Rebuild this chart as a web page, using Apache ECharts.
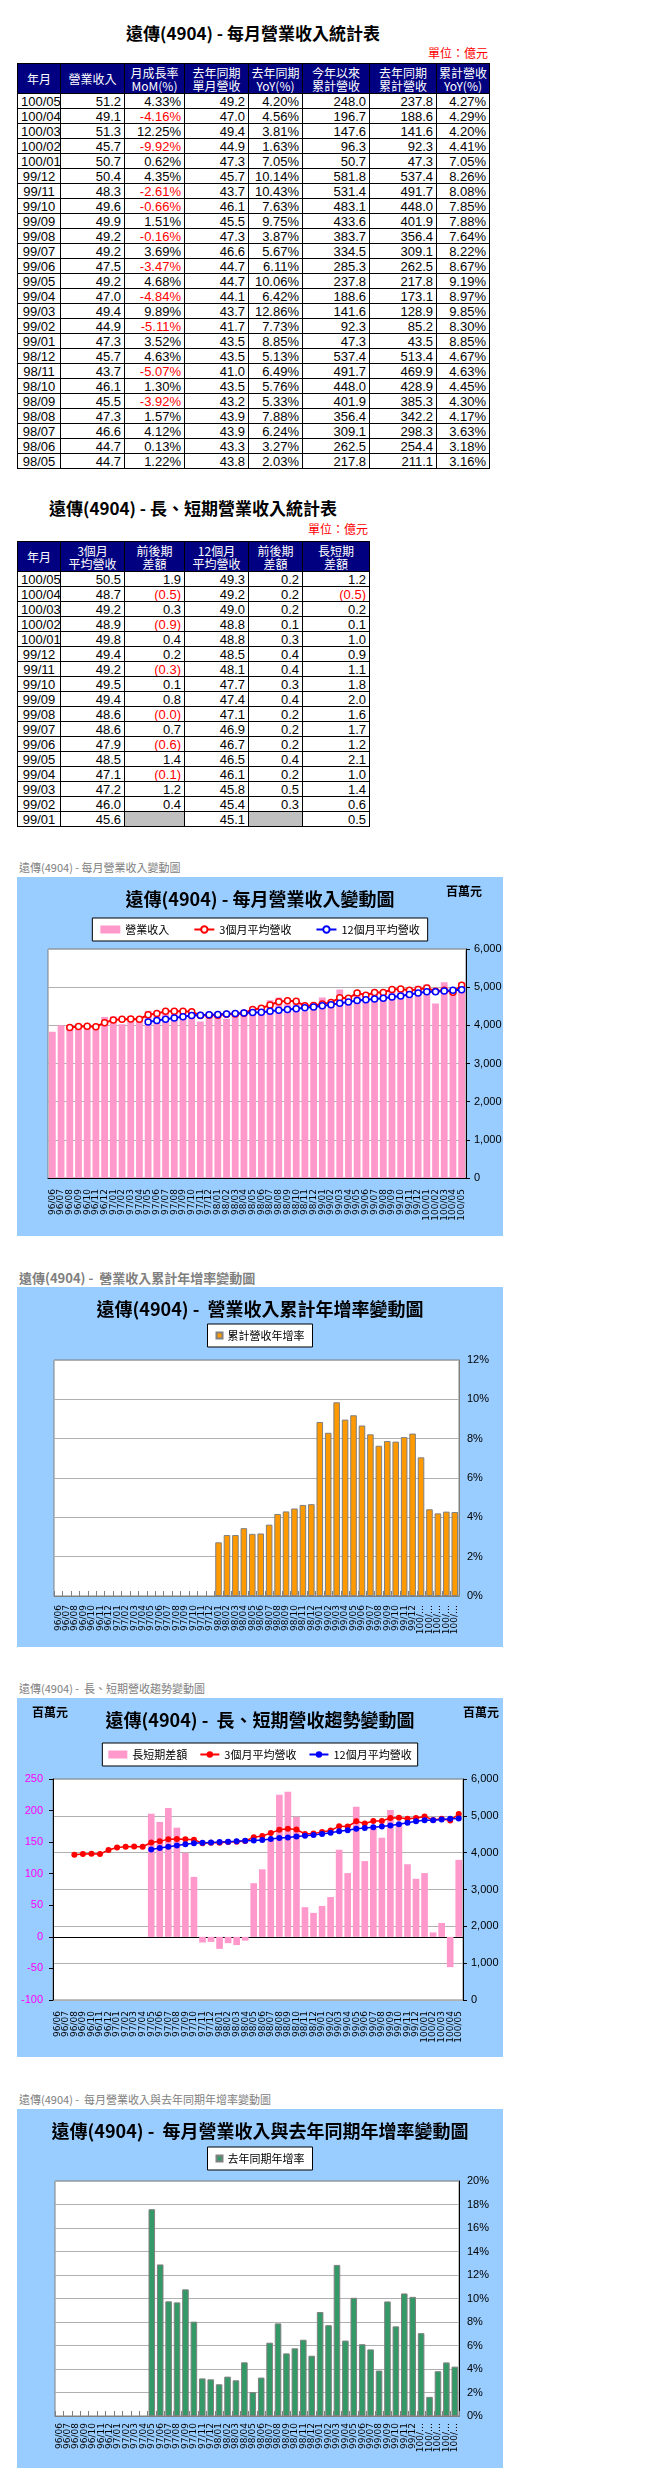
<!DOCTYPE html>
<html><head><meta charset="utf-8">
<script src="https://cdn.jsdelivr.net/npm/echarts@6/dist/echarts.min.js"></script>
<style>
html,body{margin:0;padding:0;background:#fff;}
body{position:relative;width:658px;height:2491px;overflow:hidden;font-family:'Noto Sans CJK TC','Noto Sans CJK SC',sans-serif;}
.abs{position:absolute;}
.ttl{font-weight:bold;font-size:17px;color:#000;text-align:center;white-space:nowrap;line-height:20px;}
.unit{color:#f00;font-size:12px;line-height:14px;white-space:nowrap;text-align:right;}
table{border-collapse:collapse;table-layout:fixed;position:absolute;}
td,th{border:1px solid #000;padding:0 3px;overflow:hidden;white-space:nowrap;box-sizing:border-box;}
th{background:#000080;color:#fff;font-weight:normal;font-size:12px;line-height:13px;height:30px;text-align:center;padding:0;}
td{font-family:'Liberation Sans Narrow','Liberation Sans',Arial,sans-serif;font-size:13px;height:15px;line-height:13px;text-align:right;color:#000;}
td.m{text-align:center;}
td.neg{color:#f00;}
td.gray{background:#c0c0c0;}
.cap{color:#808080;font-size:11px;line-height:16px;white-space:nowrap;}
.chart{position:absolute;}
</style>
</head><body>

<div class="abs ttl" style="left:0;width:506px;top:23px;">遠傳(4904) - 每月營業收入統計表</div>
<div class="abs unit" style="left:420px;width:68px;top:46px;">單位：億元</div>
<table id="t1" style="left:17px;top:63px;width:472px;"></table>

<div class="abs ttl" style="left:0;width:386px;top:498px;">遠傳(4904) - 長、短期營業收入統計表</div>
<div class="abs unit" style="left:300px;width:68px;top:522px;">單位：億元</div>
<table id="t2" style="left:17px;top:541px;width:352px;"></table>

<div class="abs cap" style="left:19px;top:859px;">遠傳(4904) - 每月營業收入變動圖</div>
<div id="c1" class="chart" style="left:17px;top:877px;width:486px;height:359px;"></div>

<div class="abs cap" style="left:19px;top:1270px;font-weight:bold;font-size:13px;">遠傳(4904) -&nbsp; 營業收入累計年增率變動圖</div>
<div id="c2" class="chart" style="left:17px;top:1287px;width:486px;height:360px;"></div>

<div class="abs cap" style="left:19px;top:1680px;">遠傳(4904) -&nbsp; 長、短期營收趨勢變動圖</div>
<div id="c3" class="chart" style="left:17px;top:1698px;width:486px;height:359px;"></div>

<div class="abs cap" style="left:19px;top:2091px;">遠傳(4904) -&nbsp; 每月營業收入與去年同期年增率變動圖</div>
<div id="c4" class="chart" style="left:17px;top:2109px;width:486px;height:359px;"></div>

<script>
// ---------- Table 1 data (億元) ----------
const t1Months = ['100/05','100/04','100/03','100/02','100/01','99/12','99/11','99/10','99/09','99/08','99/07','99/06','99/05','99/04','99/03','99/02','99/01','98/12','98/11','98/10','98/09','98/08','98/07','98/06','98/05'];
const t1Revenue = [51.2,49.1,51.3,45.7,50.7,50.4,48.3,49.6,49.9,49.2,49.2,47.5,49.2,47.0,49.4,44.9,47.3,45.7,43.7,46.1,45.5,47.3,46.6,44.7,44.7];
const t1MoM = [4.33,-4.16,12.25,-9.92,0.62,4.35,-2.61,-0.66,1.51,-0.16,3.69,-3.47,4.68,-4.84,9.89,-5.11,3.52,4.63,-5.07,1.30,-3.92,1.57,4.12,0.13,1.22];
const t1LastYear = [49.2,47.0,49.4,44.9,47.3,45.7,43.7,46.1,45.5,47.3,46.6,44.7,44.7,44.1,43.7,41.7,43.5,43.5,41.0,43.5,43.2,43.9,43.9,43.3,43.8];
const t1YoY = [4.20,4.56,3.81,1.63,7.05,10.14,10.43,7.63,9.75,3.87,5.67,6.11,10.06,6.42,12.86,7.73,8.85,5.13,6.49,5.76,5.33,7.88,6.24,3.27,2.03];
const t1Ytd = [248.0,196.7,147.6,96.3,50.7,581.8,531.4,483.1,433.6,383.7,334.5,285.3,237.8,188.6,141.6,92.3,47.3,537.4,491.7,448.0,401.9,356.4,309.1,262.5,217.8];
const t1YtdLast = [237.8,188.6,141.6,92.3,47.3,537.4,491.7,448.0,401.9,356.4,309.1,262.5,217.8,173.1,128.9,85.2,43.5,513.4,469.9,428.9,385.3,342.2,298.3,254.4,211.1];
const t1YtdYoY = [4.27,4.29,4.20,4.41,7.05,8.26,8.08,7.85,7.88,7.64,8.22,8.67,9.19,8.97,9.85,8.30,8.85,4.67,4.63,4.45,4.30,4.17,3.63,3.18,3.16];
const t1Headers = ['年月','營業收入','月成長率<br>MoM(%)','去年同期<br>單月營收','去年同期<br>YoY(%)','今年以來<br>累計營收','去年同期<br>累計營收','累計營收<br>YoY(%)'];

// ---------- Table 2 data (億元) ----------
const t2Months = ['100/05','100/04','100/03','100/02','100/01','99/12','99/11','99/10','99/09','99/08','99/07','99/06','99/05','99/04','99/03','99/02','99/01'];
const t2Avg3 = [50.5,48.7,49.2,48.9,49.8,49.4,49.2,49.5,49.4,48.6,48.6,47.9,48.5,47.1,47.2,46.0,45.6];
const t2Diff3 = [1.9,-0.5,0.3,-0.9,0.4,0.2,-0.3,0.1,0.8,-0.0,0.7,-0.6,1.4,-0.1,1.2,0.4,null];
const t2Avg12 = [49.3,49.2,49.0,48.8,48.8,48.5,48.1,47.7,47.4,47.1,46.9,46.7,46.5,46.1,45.8,45.4,45.1];
const t2Diff12 = [0.2,0.2,0.2,0.1,0.3,0.4,0.4,0.3,0.4,0.2,0.2,0.2,0.4,0.2,0.5,0.3,null];
const t2LongShort = [1.2,-0.5,0.2,0.1,1.0,0.9,1.1,1.8,2.0,1.6,1.7,1.2,2.1,1.0,1.4,0.6,0.5];
const t2Headers = ['年月','3個月<br>平均營收','前後期<br>差額','12個月<br>平均營收','前後期<br>差額','長短期<br>差額'];

// ---------- Chart data (百萬元 / %) ----------
const months = ['96/06','96/07','96/08','96/09','96/10','96/11','96/12',
 '97/01','97/02','97/03','97/04','97/05','97/06','97/07','97/08','97/09','97/10','97/11','97/12',
 '98/01','98/02','98/03','98/04','98/05','98/06','98/07','98/08','98/09','98/10','98/11','98/12',
 '99/01','99/02','99/03','99/04','99/05','99/06','99/07','99/08','99/09','99/10','99/11','99/12',
 '100/01','100/02','100/03','100/04','100/05'];
const revenue = [3830,4000,4000,3900,4020,3970,4220,
 4230,4030,4240,4210,4380,4330,4390,4390,4320,4350,4100,4350,
 4350,4170,4370,4410,4470,4470,4660,4730,4550,4610,4370,4570,
 4730,4490,4940,4700,4920,4750,4920,4920,4990,4960,4830,5040,
 5070,4570,5130,4910,5120];
const avg3m = [null,null,3943,3967,3973,3963,4070,
 4140,4160,4167,4160,4277,4307,4367,4370,4367,4353,4257,4267,
 4267,4290,4297,4317,4417,4450,4533,4620,4647,4630,4510,4517,
 4560,4600,4720,4710,4850,4790,4860,4860,4940,4950,4920,4940,
 4980,4890,4920,4870,5050];
const avg12m = [null,null,null,null,null,null,null,
 null,null,null,null,4086,4128,4160,4193,4228,4255,4266,4277,
 4287,4298,4309,4326,4333,4345,4368,4396,4415,4437,4459,4478,
 4510,4540,4580,4610,4650,4670,4690,4710,4740,4770,4810,4850,
 4880,4880,4900,4920,4930];
const longShortDiff = [null,null,null,null,null,null,null,
 null,null,null,null,195,182,204,173,133,95,-9,-8,
 -19,-10,-13,-6,85,107,154,225,230,190,47,38,
 49,63,138,101,206,120,172,157,201,181,115,92,
 101,7,22,-48,122];
const ytdYoY = [null,null,null,null,null,null,null,
 null,null,null,null,null,null,null,null,null,null,null,null,
 2.73,3.10,3.10,3.45,3.16,3.18,3.63,4.17,4.30,4.45,4.63,4.67,
 8.85,8.30,9.85,8.97,9.19,8.67,8.22,7.64,7.88,7.85,8.08,8.26,
 7.05,4.41,4.20,4.29,4.27];
const monthYoY = [null,null,null,null,null,null,null,
 null,null,null,null,17.6,12.9,9.76,9.67,10.78,8.03,3.2,3.12,
 2.7,3.35,3.04,4.57,2.03,3.27,6.24,7.88,5.33,5.76,6.49,5.13,
 8.85,7.73,12.86,6.42,10.06,6.11,5.67,3.87,9.75,7.63,10.43,10.14,
 7.05,1.63,3.81,4.56,4.20];

// ---------- Build tables ----------
function isNeg(v){ return v < 0 || Object.is(v, -0); }
function buildTable(id, widths, headers, rows){
  const t = document.getElementById(id);
  let h = '<colgroup>' + widths.map(w => '<col style="width:'+w+'px">').join('') + '</colgroup>';
  h += '<tr>' + headers.map(x => '<th>'+x+'</th>').join('') + '</tr>';
  rows.forEach(r => {
    h += '<tr>' + r.map(c => '<td class="'+(c.cls||'')+'">'+(c.text==null?'':c.text)+'</td>').join('') + '</tr>';
  });
  t.innerHTML = h;
}
const pct = v => ({text: v.toFixed(2)+'%', cls: isNeg(v)?'neg':''});
const num = v => ({text: v.toFixed(1)});
const paren = v => v==null ? {text:'', cls:'gray'} : (isNeg(v) ? {text:'('+Math.abs(v).toFixed(1)+')', cls:'neg'} : {text:v.toFixed(1)});

buildTable('t1', [43,64,60,64,54,67,67,53], t1Headers,
  t1Months.map((m,i)=>[{text:m,cls:'m'}, num(t1Revenue[i]), pct(t1MoM[i]), num(t1LastYear[i]), pct(t1YoY[i]), num(t1Ytd[i]), num(t1YtdLast[i]), pct(t1YtdYoY[i])]));
buildTable('t2', [43,64,60,64,54,67], t2Headers,
  t2Months.map((m,i)=>[{text:m,cls:'m'}, num(t2Avg3[i]), paren(t2Diff3[i]), num(t2Avg12[i]), paren(t2Diff12[i]), paren(t2LongShort[i])]));

// ---------- Charts ----------
const NUMF = "'Liberation Sans Narrow','Liberation Sans',Arial,sans-serif";
const CJKF = "'Noto Sans CJK TC','Noto Sans CJK SC',sans-serif";
const XF = "'DejaVu Sans',sans-serif";
const thousands = v => v.toLocaleString('en-US');

function titleOpt(text){
  return {text:text, left:'center', top:13, padding:0,
    textStyle:{fontSize:18, fontWeight:'bold', color:'#000', fontFamily:CJKF}};
}
function xAxisOpt(ticks, fmtTrunc, margin){
  return {type:'category', data:months,
    axisLine:{show:true, lineStyle:{color: ticks ? '#808080' : '#000'}},
    axisTick:{show:ticks, inside:true, length:5, lineStyle:{color:'#808080'}},
    axisLabel:{rotate:90, interval:0, fontSize:9, color:'#000', fontFamily:XF, margin:margin,
      formatter: fmtTrunc ? (v => v.length>5 ? v.slice(0,4)+'…' : v) : (v=>v)},
    splitLine:{show:false}};
}
function legendOpt(top, items, extra){
  return Object.assign({left:'center', top:top, data:items, backgroundColor:'#fff', borderColor:'#000', borderWidth:1,
    textStyle:{fontSize:11, color:'#000', fontFamily:CJKF}, itemGap:24, itemWidth:20, itemHeight:8, padding:[6,8]}, extra||{});
}

const c1 = echarts.init(document.getElementById('c1'), null, {renderer:'canvas'});
c1.setOption({
  animation:false, backgroundColor:'#99CCFF',
  title: titleOpt('遠傳(4904) - 每月營業收入變動圖'),
  graphic:[{type:'text', left:429, top:8, style:{text:'百萬元', font:"bold 12px 'Noto Sans CJK TC'", fill:'#000'}}],
  legend: legendOpt(41, [{name:'營業收入', icon:'rect'}, {name:'3個月平均營收'}, {name:'12個月平均營收'}], {itemGap:24}),
  grid:{left:31, right:37, top:72, bottom:58, show:true, backgroundColor:'#fff', borderColor:'#808080', borderWidth:1, outerBoundsMode:'none'},
  xAxis: xAxisOpt(false, false, 11),
  yAxis:{type:'value', position:'right', min:0, max:6000, interval:1000,
    axisLine:{show:true, lineStyle:{color:'#000'}}, axisTick:{show:true, length:4, lineStyle:{color:'#000'}},
    splitLine:{show:true, lineStyle:{color:'#B0B0B0'}},
    axisLabel:{formatter:thousands, fontSize:11, color:'#000', fontFamily:NUMF, margin:8}},
  series:[
    {name:'營業收入', type:'bar', data:revenue, itemStyle:{color:'#FF99CC'}, barCategoryGap:'22%'},
    {name:'3個月平均營收', type:'line', data:avg3m, symbol:'circle', symbolSize:6, showAllSymbol:true,
      lineStyle:{color:'#FF0000', width:2}, itemStyle:{color:'#fff', borderColor:'#FF0000', borderWidth:1.5}},
    {name:'12個月平均營收', type:'line', data:avg12m, symbol:'circle', symbolSize:6, showAllSymbol:true,
      lineStyle:{color:'#0000FF', width:2}, itemStyle:{color:'#fff', borderColor:'#0000FF', borderWidth:1.5}}
  ]
});

const c2 = echarts.init(document.getElementById('c2'), null, {renderer:'canvas'});
c2.setOption({
  animation:false, backgroundColor:'#99CCFF',
  title: titleOpt('遠傳(4904) -  營業收入累計年增率變動圖'),
  legend: legendOpt(37, [{name:'累計營收年增率', icon:'rect'}], {itemWidth:6, itemHeight:6, padding:[6,8], itemGap:3}),
  grid:{left:37, right:44, top:73, bottom:51, show:true, backgroundColor:'#fff', borderColor:'#808080', borderWidth:1, outerBoundsMode:'none'},
  xAxis: xAxisOpt(true, true, 9),
  yAxis:{type:'value', position:'right', min:0, max:12, interval:2,
    axisLine:{show:true, lineStyle:{color:'#808080'}}, axisTick:{show:false},
    splitLine:{show:true, lineStyle:{color:'#B0B0B0'}},
    axisLabel:{formatter:'{value}%', fontSize:11, color:'#000', fontFamily:NUMF, margin:8}},
  series:[{name:'累計營收年增率', type:'bar', data:ytdYoY, barCategoryGap:'22%',
    itemStyle:{color:'#FF9900', borderColor:'#808080', borderWidth:1}}]
});

const c3 = echarts.init(document.getElementById('c3'), null, {renderer:'canvas'});
c3.setOption({
  animation:false, backgroundColor:'#99CCFF',
  title: titleOpt('遠傳(4904) -  長、短期營收趨勢變動圖'),
  graphic:[
    {type:'text', left:15, top:8, style:{text:'百萬元', font:"bold 12px 'Noto Sans CJK TC'", fill:'#000'}},
    {type:'text', left:446, top:8, style:{text:'百萬元', font:"bold 12px 'Noto Sans CJK TC'", fill:'#000'}}
  ],
  legend: legendOpt(45, [{name:'長短期差額', icon:'rect'}, {name:'3個月平均營收'}, {name:'12個月平均營收'}], {itemGap:12, itemWidth:19, padding:[6,6]}),
  grid:{left:36, right:40, top:81, bottom:57, show:true, backgroundColor:'#fff', borderColor:'#808080', borderWidth:1, outerBoundsMode:'none'},
  xAxis: xAxisOpt(false, false, 11),
  yAxis:[
    {type:'value', position:'left', min:-100, max:250, interval:50,
      axisLine:{show:true, lineStyle:{color:'#000'}}, axisTick:{show:true, length:4, lineStyle:{color:'#000'}},
      splitLine:{show:false},
      axisLabel:{fontSize:11, color:'#FF00FF', fontFamily:NUMF, margin:10}},
    {type:'value', position:'right', min:0, max:6000, interval:1000,
      axisLine:{show:true, lineStyle:{color:'#000'}}, axisTick:{show:true, length:4, lineStyle:{color:'#000'}},
      splitLine:{show:true, lineStyle:{color:'#B0B0B0'}},
      axisLabel:{formatter:thousands, fontSize:11, color:'#000', fontFamily:NUMF, margin:8}}
  ],
  series:[
    {name:'長短期差額', type:'bar', yAxisIndex:0, data:longShortDiff, itemStyle:{color:'#FF99CC'}, barCategoryGap:'22%'},
    {name:'3個月平均營收', type:'line', yAxisIndex:1, data:avg3m, symbol:'circle', symbolSize:6, showAllSymbol:true,
      lineStyle:{color:'#FF0000', width:1.5}, itemStyle:{color:'#FF0000'}},
    {name:'12個月平均營收', type:'line', yAxisIndex:1, data:avg12m, symbol:'circle', symbolSize:6, showAllSymbol:true,
      lineStyle:{color:'#0000FF', width:1.5}, itemStyle:{color:'#0000FF'}}
  ]
});

const c4 = echarts.init(document.getElementById('c4'), null, {renderer:'canvas'});
c4.setOption({
  animation:false, backgroundColor:'#99CCFF',
  title: titleOpt('遠傳(4904) -  每月營業收入與去年同期年增率變動圖'),
  legend: legendOpt(38, [{name:'去年同期年增率', icon:'rect'}], {itemWidth:6, itemHeight:6, padding:[6,8], itemGap:3}),
  grid:{left:38, right:44, top:72, bottom:52, show:true, backgroundColor:'#fff', borderColor:'#808080', borderWidth:1, outerBoundsMode:'none'},
  xAxis: xAxisOpt(true, true, 7),
  yAxis:{type:'value', position:'right', min:0, max:20, interval:2,
    axisLine:{show:true, lineStyle:{color:'#000'}}, axisTick:{show:false},
    splitLine:{show:true, lineStyle:{color:'#B0B0B0'}},
    axisLabel:{formatter:'{value}%', fontSize:11, color:'#000', fontFamily:NUMF, margin:8}},
  series:[{name:'去年同期年增率', type:'bar', data:monthYoY, barCategoryGap:'22%',
    itemStyle:{color:'#339966', borderColor:'#808080', borderWidth:1}}]
});
</script>
</body></html>
